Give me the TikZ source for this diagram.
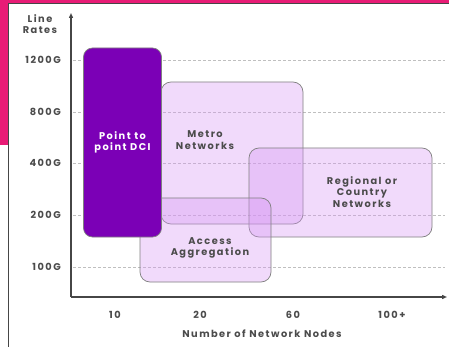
\documentclass[tikz,border=0pt]{standalone}
\usepackage{fontspec}
\setsansfont{Poppins}[LetterSpace=15]
\usetikzlibrary{arrows.meta}
\definecolor{pinkbg}{RGB}{232,28,118}
\definecolor{dcipurple}{RGB}{123,0,182}
\definecolor{lilac}{RGB}{215,150,245}
\definecolor{framegray}{RGB}{70,70,70}
\definecolor{labelgray}{RGB}{75,75,75}

\begin{document}
\begin{tikzpicture}[x=1pt, y=-1pt,
  every node/.style={font=\sffamily\bfseries\fontsize{9.8}{11.5}\selectfont, text=labelgray, align=center, inner sep=0pt},
  zone/.style={draw=gray, line width=0.7pt, rounded corners=10pt, fill=lilac, fill opacity=0.35, text opacity=1},
  gridline/.style={lightgray, densely dashed, line width=0.4pt}]
\useasboundingbox (0,0) rectangle (449,347);

% Draw the pink corner and the white panel
\fill[pinkbg] (0,0) rectangle (449,3);
\fill[pinkbg] (0,0) rectangle (8,145);
\fill[white] (8,3) rectangle (449,347);
\draw[framegray, line width=0.8pt] (8,347) -- (8,3) -- (449,3);

% Axes
\coordinate (origin) at (71,297);
\coordinate (ytip) at (71,13);
\coordinate (xtip) at (447,297);

% Draw the dashed rate lines
\foreach \y/\rate in {60/1200G, 112/800G, 163/400G, 215/200G, 267/100G} {
  \draw[gridline] (73,\y) -- (445,\y);
  \node[anchor=east] (r\rate) at (61,\y) {\rate};
}
\node (rates) at (40,24) {Line\\Rates};

% Draw the network zones
\node[zone, minimum width=142pt, minimum height=142pt] (metro) at (232,153) {};
\node[zone, minimum width=183pt, minimum height=89pt] (regional) at (340.5,192.5) {};
\node[zone, minimum width=131pt, minimum height=84pt] (access) at (205.5,240) {};
\node[draw=gray, line width=0.7pt, rounded corners=9pt, fill=dcipurple, text=white,
  minimum width=78pt, minimum height=189pt] (dci) at (122.5,142.5) {Point to\\point DCI};

\node (metrolbl) at (205,140) {Metro\\Networks};
\node (regionallbl) at (362,192) {Regional or\\Country\\Networks};
\node (accesslbl) at (210,248) {Access\\Aggregation};

% Draw the axes
\draw[framegray, line width=1.6pt, -{Triangle[length=5pt, width=4pt]}] (origin) -- (ytip);
\draw[framegray, line width=1.6pt, -{Triangle[length=5pt, width=4pt]}] (origin) -- (xtip);

% Node counts
\foreach \x/\n in {115/10, 200/20, 293/60, 392/100+} {
  \node (n\n) at (\x,315) {\n};
}
\node (nodes) at (262,334) {Number of Network Nodes};
\end{tikzpicture}
\end{document}
